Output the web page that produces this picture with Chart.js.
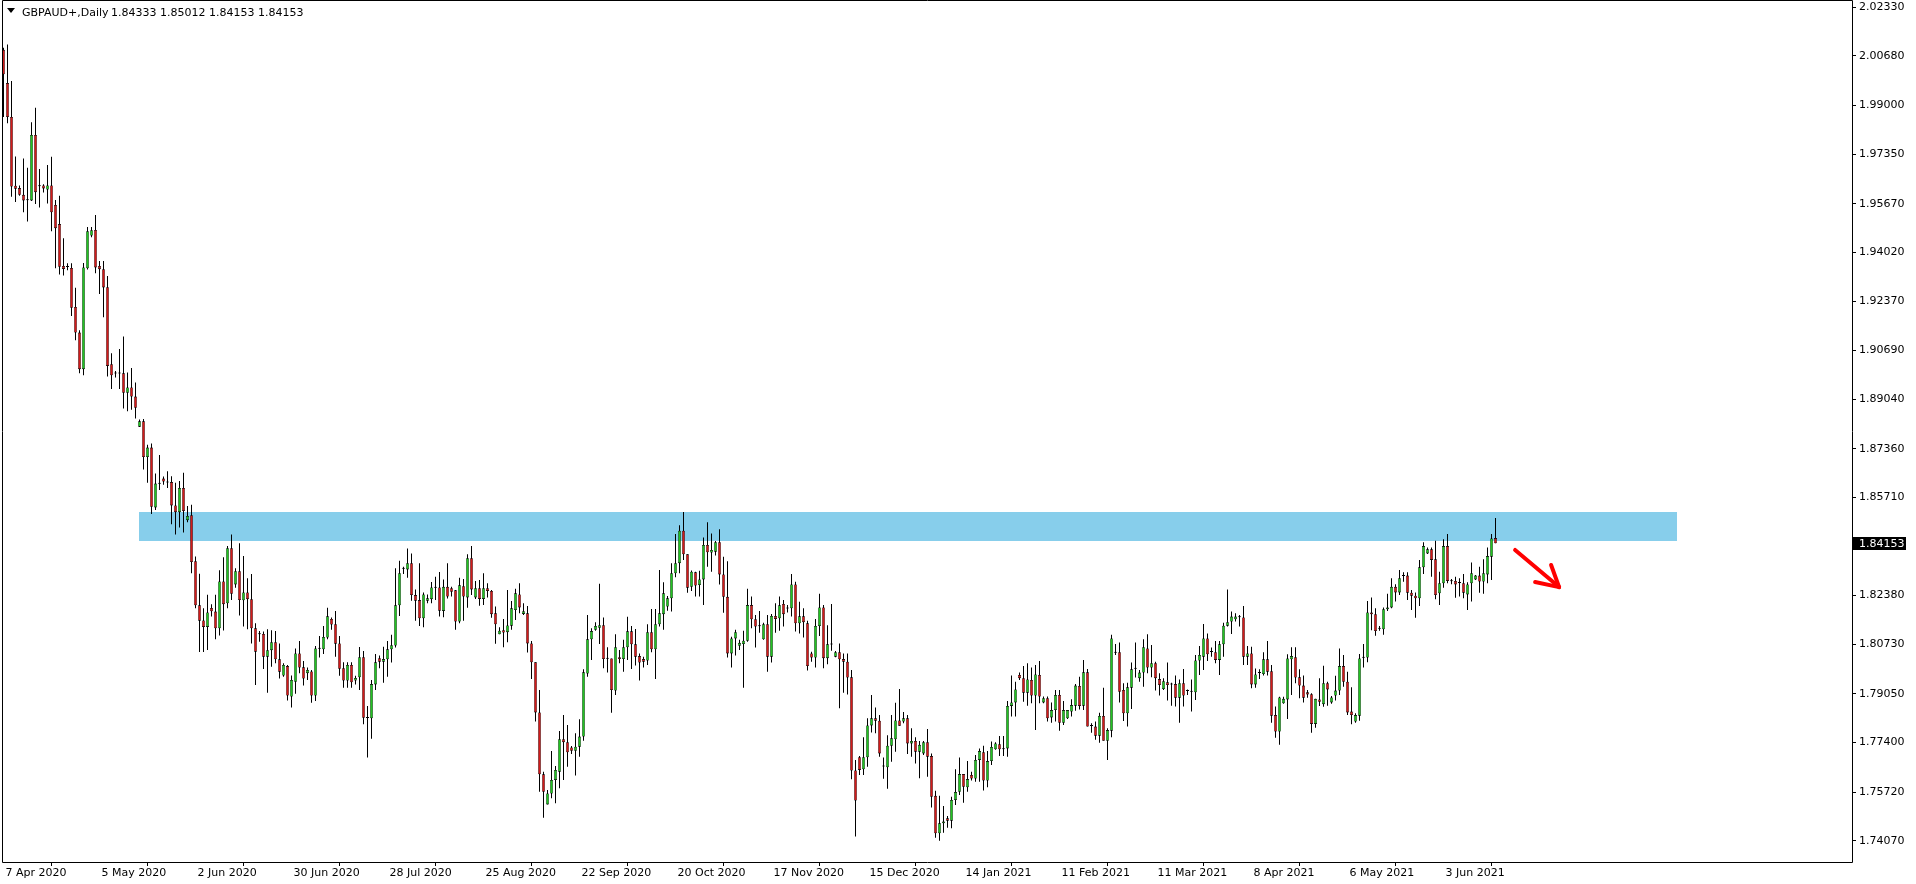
<!DOCTYPE html>
<html>
<head>
<meta charset="utf-8">
<title>GBPAUD+,Daily</title>
<script src="https://cdn.jsdelivr.net/npm/chart.js@4.4.1/dist/chart.umd.min.js"></script>
<style>
  html, body { margin: 0; padding: 0; background: #fff; overflow: hidden; }
</style>
</head>
<body>
<canvas id="myChart" width="1916" height="884"></canvas>
<script>
'use strict';
// data (one value per daily bar)
const opens = [
  2.0089, 1.9976, 1.9861, 1.9628, 1.9620, 1.9597, 1.9580, 1.9578, 1.9800, 1.9628,
  1.9629, 1.9615, 1.9629, 1.9563, 1.9498, 1.9356, 1.9354, 1.9349, 1.9217, 1.9130,
  1.9006, 1.9348, 1.9459, 1.9478, 1.9356, 1.9345, 1.9284, 1.9023, 1.8992, 1.8992,
  1.8992, 1.8926, 1.8944, 1.8913, 1.8811, 1.8829, 1.8708, 1.8740, 1.8537, 1.8618,
  1.8635, 1.8623, 1.8623, 1.8544, 1.8521, 1.8603, 1.8494, 1.8511, 1.8355, 1.8205,
  1.8154, 1.8132, 1.8196, 1.8184, 1.8127, 1.8286, 1.8212, 1.8399, 1.8276, 1.8321,
  1.8222, 1.8249, 1.8226, 1.8127, 1.8110, 1.8108, 1.8031, 1.8053, 1.8080, 1.8022,
  1.7967, 1.7999, 1.7896, 1.7946, 1.8042, 1.7995, 1.7975, 1.7981, 1.7899, 1.8059,
  1.8056, 1.8096, 1.8159, 1.8141, 1.8076, 1.7992, 1.7950, 1.8003, 1.7950, 1.7961,
  1.8029, 1.7824, 1.7822, 1.7937, 1.8026, 1.8014, 1.8022, 1.8056, 1.8069, 1.8205,
  1.8331, 1.8327, 1.8348, 1.8240, 1.8223, 1.8161, 1.8221, 1.8226, 1.8266, 1.8266,
  1.8186, 1.8268, 1.8263, 1.8256, 1.8150, 1.8270, 1.8232, 1.8365, 1.8232, 1.8263,
  1.8227, 1.8263, 1.8254, 1.8178, 1.8107, 1.8121, 1.8114, 1.8136, 1.8189, 1.8242,
  1.8176, 1.8178, 1.8076, 1.8012, 1.7842, 1.7632, 1.7530, 1.7567, 1.7613, 1.7641,
  1.7751, 1.7741, 1.7723, 1.7712, 1.7726, 1.7760, 1.7974, 1.8090, 1.8122, 1.8129,
  1.8138, 1.8025, 1.8025, 1.7916, 1.8029, 1.8023, 1.8063, 1.8117, 1.8073, 1.8033,
  1.8023, 1.8018, 1.8114, 1.8056, 1.8141, 1.8175, 1.8201, 1.8229, 1.8314, 1.8348,
  1.8458, 1.8378, 1.8268, 1.8317, 1.8274, 1.8293, 1.8410, 1.8384, 1.8387, 1.8419,
  1.8310, 1.8234, 1.8042, 1.8093, 1.8068, 1.8074, 1.8085, 1.8206, 1.8158, 1.8135,
  1.8090, 1.8141, 1.8031, 1.8169, 1.8161, 1.8210, 1.8195, 1.8195, 1.8276, 1.8144,
  1.8168, 1.8144, 1.8042, 1.8028, 1.8135, 1.8198, 1.8026, 1.8073, 1.8031, 1.8046,
  1.8023, 1.8014, 1.7961, 1.7645, 1.7690, 1.7649, 1.7690, 1.7798, 1.7822, 1.7814,
  1.7660, 1.7656, 1.7729, 1.7751, 1.7815, 1.7811, 1.7822, 1.7737, 1.7745, 1.7709,
  1.7703, 1.7741, 1.7694, 1.7559, 1.7432, 1.7466, 1.7483, 1.7475, 1.7545, 1.7573,
  1.7633, 1.7588, 1.7630, 1.7618, 1.7681, 1.7707, 1.7611, 1.7677, 1.7717, 1.7734,
  1.7717, 1.7720, 1.7864, 1.7876, 1.7969, 1.7958, 1.7909, 1.7952, 1.7899, 1.7969,
  1.7876, 1.7890, 1.7825, 1.7850, 1.7901, 1.7807, 1.7822, 1.7845, 1.7865, 1.7932,
  1.7865, 1.7978, 1.7797, 1.7794, 1.7763, 1.7830, 1.7746, 1.7780, 1.8045, 1.8046,
  1.7918, 1.7839, 1.7926, 1.7991, 1.7958, 1.7977, 1.8059, 1.7994, 1.8009, 1.7955,
  1.7921, 1.7944, 1.7938, 1.7938, 1.7892, 1.7941, 1.7916, 1.7913, 1.7910, 1.8018,
  1.8031, 1.8093, 1.8048, 1.8046, 1.8020, 1.8073, 1.8136, 1.8150, 1.8158, 1.8166,
  1.8164, 1.8031, 1.8042, 1.7937, 1.7977, 1.7972, 1.8022, 1.7982, 1.7833, 1.7777,
  1.7873, 1.7886, 1.8022, 1.8029, 1.7961, 1.7933, 1.7910, 1.7904, 1.7803, 1.7886,
  1.7870, 1.7941, 1.7876, 1.7899, 1.7916, 1.7999, 1.7946, 1.7845, 1.7811, 1.7831,
  1.8028, 1.8028, 1.8181, 1.8175, 1.8127, 1.8124, 1.8192, 1.8198, 1.8268, 1.8249,
  1.8306, 1.8306, 1.8248, 1.8238, 1.8229, 1.8334, 1.8381, 1.8395, 1.8361, 1.8246,
  1.8280, 1.8406, 1.8288, 1.8288, 1.8282, 1.8280, 1.8242, 1.8280, 1.8293, 1.8306,
  1.8286, 1.8310, 1.8370, 1.84333
];
const highs = [
  2.0096, 2.0107, 1.9983, 1.9727, 1.9629, 1.9720, 1.9689, 1.9843, 1.9892, 1.9685,
  1.9633, 1.9698, 1.9726, 1.9580, 1.9594, 1.9450, 1.9365, 1.9365, 1.9282, 1.9138,
  1.9366, 1.9488, 1.9488, 1.9529, 1.9373, 1.9373, 1.9322, 1.9060, 1.9000, 1.9074,
  1.9117, 1.8995, 1.9010, 1.8961, 1.8835, 1.8837, 1.8750, 1.8754, 1.8652, 1.8715,
  1.8642, 1.8660, 1.8643, 1.8621, 1.8627, 1.8655, 1.8542, 1.8546, 1.8371, 1.8312,
  1.8195, 1.8241, 1.8209, 1.8241, 1.8324, 1.8368, 1.8406, 1.8445, 1.8331, 1.8416,
  1.8372, 1.8297, 1.8311, 1.8144, 1.8118, 1.8116, 1.8124, 1.8121, 1.8118, 1.8076,
  1.8009, 1.8003, 1.7967, 1.8059, 1.8084, 1.8016, 1.7994, 1.7986, 1.8067, 1.8101,
  1.8135, 1.8197, 1.8164, 1.8186, 1.8101, 1.8012, 1.8012, 1.8012, 1.7966, 1.8064,
  1.8050, 1.7864, 1.7952, 1.8040, 1.8035, 1.8065, 1.8084, 1.8105, 1.8331, 1.8356,
  1.8336, 1.8398, 1.8381, 1.8259, 1.8348, 1.8249, 1.8242, 1.8284, 1.8302, 1.8318,
  1.8293, 1.8348, 1.8268, 1.8257, 1.8299, 1.8294, 1.8378, 1.8406, 1.8288, 1.8291,
  1.8314, 1.8280, 1.8257, 1.8201, 1.8131, 1.8159, 1.8257, 1.8220, 1.8261, 1.8280,
  1.8212, 1.8203, 1.8084, 1.8012, 1.7918, 1.7641, 1.7579, 1.7711, 1.7660, 1.7779,
  1.7833, 1.7799, 1.7728, 1.7771, 1.7819, 1.7988, 1.8172, 1.8127, 1.8148, 1.8278,
  1.8164, 1.8063, 1.8025, 1.8107, 1.8054, 1.8088, 1.8166, 1.8135, 1.8125, 1.8042,
  1.8031, 1.8141, 1.8193, 1.8193, 1.8325, 1.8283, 1.8237, 1.8348, 1.8447, 1.8477,
  1.8522, 1.8378, 1.8323, 1.8319, 1.8322, 1.8435, 1.8487, 1.8449, 1.8423, 1.8463,
  1.8370, 1.8355, 1.8099, 1.8122, 1.8088, 1.8119, 1.8261, 1.8235, 1.8172, 1.8186,
  1.8146, 1.8172, 1.8176, 1.8212, 1.8235, 1.8223, 1.8206, 1.8311, 1.8285, 1.8217,
  1.8195, 1.8153, 1.8048, 1.8159, 1.8244, 1.8206, 1.8138, 1.8210, 1.8050, 1.8076,
  1.8042, 1.8042, 1.7986, 1.7681, 1.7694, 1.7758, 1.7822, 1.7901, 1.7859, 1.7833,
  1.7689, 1.7765, 1.7833, 1.7875, 1.7921, 1.7843, 1.7833, 1.7788, 1.7758, 1.7745,
  1.7745, 1.7786, 1.7703, 1.7576, 1.7559, 1.7525, 1.7491, 1.7556, 1.7649, 1.7689,
  1.7633, 1.7677, 1.7641, 1.7698, 1.7720, 1.7729, 1.7711, 1.7743, 1.7741, 1.7762,
  1.7762, 1.7881, 1.7967, 1.7946, 1.7977, 1.7999, 1.8009, 1.7994, 1.8003, 1.8016,
  1.7896, 1.7896, 1.7876, 1.7918, 1.7918, 1.7881, 1.7850, 1.7887, 1.7938, 1.7963,
  1.8020, 1.7989, 1.7805, 1.7811, 1.7841, 1.7926, 1.7788, 1.8105, 1.8074, 1.8079,
  1.7941, 1.7943, 1.8011, 1.8079, 1.7986, 1.8090, 1.8107, 1.8071, 1.8014, 1.7975,
  1.7958, 1.8011, 1.7943, 1.7967, 1.7954, 1.7989, 1.7920, 1.7954, 1.8037, 1.8067,
  1.8142, 1.8110, 1.8062, 1.8084, 1.8084, 1.8146, 1.8259, 1.8184, 1.8178, 1.8172,
  1.8203, 1.8067, 1.8065, 1.7991, 1.7988, 1.8046, 1.8084, 1.8003, 1.7862, 1.7895,
  1.7895, 1.8039, 1.8063, 1.8063, 1.7988, 1.7967, 1.7918, 1.7907, 1.7888, 1.7958,
  1.8000, 1.7946, 1.7898, 1.7966, 1.8059, 1.8037, 1.7980, 1.7927, 1.7839, 1.8040,
  1.8074, 1.8220, 1.8232, 1.8195, 1.8135, 1.8198, 1.8244, 1.8297, 1.8277, 1.8325,
  1.8317, 1.8317, 1.8257, 1.8249, 1.8359, 1.8419, 1.8401, 1.8401, 1.8424, 1.8319,
  1.8429, 1.8447, 1.8294, 1.8302, 1.8297, 1.8311, 1.8283, 1.8350, 1.8308, 1.8336,
  1.8361, 1.8401, 1.8447, 1.85012
];
const lows = [
  1.9861, 1.9840, 1.9591, 1.9573, 1.9594, 1.9538, 1.9507, 1.9576, 1.9566, 1.9554,
  1.9605, 1.9568, 1.9474, 1.9348, 1.9327, 1.9324, 1.9341, 1.9186, 1.9104, 1.8992,
  1.8985, 1.9344, 1.9453, 1.9331, 1.9261, 1.9182, 1.8981, 1.8939, 1.8978, 1.8939,
  1.8873, 1.8863, 1.8868, 1.8839, 1.8810, 1.8666, 1.8621, 1.8515, 1.8528, 1.8596,
  1.8614, 1.8603, 1.8480, 1.8445, 1.8469, 1.8452, 1.8487, 1.8314, 1.8195, 1.8047,
  1.8047, 1.8054, 1.8167, 1.8090, 1.8103, 1.8120, 1.8195, 1.8223, 1.8265, 1.8171,
  1.8133, 1.8124, 1.8076, 1.7935, 1.8082, 1.7989, 1.7909, 1.7997, 1.8009, 1.7957,
  1.7963, 1.7882, 1.7859, 1.7905, 1.7975, 1.7933, 1.7952, 1.7875, 1.7881, 1.8028,
  1.8040, 1.8090, 1.8122, 1.8031, 1.7966, 1.7926, 1.7926, 1.7926, 1.7937, 1.7918,
  1.7802, 1.7689, 1.7753, 1.7918, 1.7992, 1.7943, 1.7963, 1.8011, 1.8062, 1.8169,
  1.8311, 1.8299, 1.8221, 1.8153, 1.8135, 1.8131, 1.8212, 1.8212, 1.8223, 1.8167,
  1.8165, 1.8228, 1.8235, 1.8122, 1.8144, 1.8153, 1.8197, 1.8240, 1.8227, 1.8204,
  1.8206, 1.8232, 1.8163, 1.8075, 1.8107, 1.8063, 1.8080, 1.8122, 1.8155, 1.8178,
  1.8172, 1.8045, 1.7955, 1.7811, 1.7573, 1.7485, 1.7530, 1.7551, 1.7534, 1.7585,
  1.7613, 1.7658, 1.7701, 1.7628, 1.7692, 1.7746, 1.7963, 1.8020, 1.8119, 1.8074,
  1.7992, 1.7977, 1.7841, 1.7901, 1.8009, 1.7980, 1.8020, 1.7989, 1.8001, 1.7950,
  1.7994, 1.8003, 1.8046, 1.7955, 1.8133, 1.8122, 1.8187, 1.8184, 1.8300, 1.8314,
  1.8359, 1.8248, 1.8254, 1.8235, 1.8235, 1.8206, 1.8336, 1.8319, 1.8374, 1.8276,
  1.8180, 1.8028, 1.7994, 1.8035, 1.8054, 1.7926, 1.8082, 1.8127, 1.8062, 1.8112,
  1.8088, 1.7980, 1.8011, 1.8112, 1.8119, 1.8133, 1.8181, 1.8167, 1.8116, 1.8110,
  1.8096, 1.7984, 1.8014, 1.7994, 1.8101, 1.7992, 1.8005, 1.8051, 1.8029, 1.7856,
  1.7909, 1.7903, 1.7615, 1.7421, 1.7630, 1.7630, 1.7658, 1.7774, 1.7771, 1.7692,
  1.7617, 1.7583, 1.7675, 1.7709, 1.7797, 1.7805, 1.7701, 1.7692, 1.7669, 1.7619,
  1.7698, 1.7624, 1.7520, 1.7417, 1.7407, 1.7434, 1.7451, 1.7449, 1.7528, 1.7562,
  1.7536, 1.7573, 1.7611, 1.7607, 1.7607, 1.7577, 1.7588, 1.7664, 1.7715, 1.7694,
  1.7694, 1.7692, 1.7828, 1.7828, 1.7952, 1.7878, 1.7865, 1.7873, 1.7782, 1.7873,
  1.7873, 1.7811, 1.7807, 1.7811, 1.7780, 1.7799, 1.7820, 1.7828, 1.7848, 1.7852,
  1.7850, 1.7794, 1.7773, 1.7749, 1.7739, 1.7746, 1.7681, 1.7758, 1.8037, 1.7876,
  1.7813, 1.7794, 1.7854, 1.7960, 1.7946, 1.7929, 1.7975, 1.7961, 1.7916, 1.7899,
  1.7918, 1.7882, 1.7865, 1.7862, 1.7807, 1.7862, 1.7901, 1.7845, 1.7884, 1.7969,
  1.7986, 1.8016, 1.8031, 1.8009, 1.7969, 1.8031, 1.8133, 1.8108, 1.8150, 1.8133,
  1.8003, 1.8003, 1.7924, 1.7926, 1.7955, 1.7967, 1.7967, 1.7807, 1.7756, 1.7732,
  1.7871, 1.7820, 1.7901, 1.7941, 1.7890, 1.7876, 1.7892, 1.7773, 1.7790, 1.7864,
  1.7861, 1.7865, 1.7871, 1.7882, 1.7901, 1.7929, 1.7833, 1.7802, 1.7807, 1.7814,
  1.7994, 1.8012, 1.8121, 1.8102, 1.8119, 1.8105, 1.8186, 1.8195, 1.8218, 1.8240,
  1.8285, 1.8223, 1.8189, 1.8163, 1.8203, 1.8311, 1.8379, 1.8302, 1.8226, 1.8206,
  1.8265, 1.8280, 1.8277, 1.8231, 1.8235, 1.8229, 1.8189, 1.8218, 1.8291, 1.8248,
  1.8244, 1.8280, 1.8291, 1.84153
];
const closes = [
  2.0006, 1.9861, 1.9625, 1.9618, 1.9597, 1.9578, 1.9579, 1.9800, 1.9606, 1.9626,
  1.9619, 1.9629, 1.9538, 1.9484, 1.9353, 1.9346, 1.9352, 1.9214, 1.9130, 1.9006,
  1.9351, 1.9474, 1.9477, 1.9351, 1.9345, 1.9283, 1.9017, 1.8985, 1.8991, 1.8991,
  1.8926, 1.8944, 1.8913, 1.8875, 1.8829, 1.8708, 1.8740, 1.8539, 1.8618, 1.8617,
  1.8625, 1.8622, 1.8544, 1.8521, 1.8603, 1.8525, 1.8508, 1.8352, 1.8205, 1.8153,
  1.8132, 1.8181, 1.8185, 1.8127, 1.8286, 1.8209, 1.8399, 1.8244, 1.8321, 1.8223,
  1.8249, 1.8226, 1.8127, 1.8048, 1.8107, 1.8031, 1.8053, 1.8080, 1.8022, 1.7980,
  1.8003, 1.7899, 1.7952, 1.8042, 1.7994, 1.7957, 1.7986, 1.7899, 1.8059, 1.8058,
  1.8098, 1.8168, 1.8140, 1.8075, 1.7990, 1.7950, 1.8003, 1.7944, 1.7959, 1.8029,
  1.7824, 1.7823, 1.7938, 1.8012, 1.8014, 1.8023, 1.8056, 1.8070, 1.8205, 1.8314,
  1.8329, 1.8348, 1.8240, 1.8221, 1.8161, 1.8242, 1.8229, 1.8266, 1.8265, 1.8187,
  1.8268, 1.8235, 1.8251, 1.8150, 1.8273, 1.8235, 1.8365, 1.8259, 1.8263, 1.8227,
  1.8263, 1.8254, 1.8175, 1.8141, 1.8119, 1.8113, 1.8137, 1.8195, 1.8246, 1.8198,
  1.8185, 1.8076, 1.8012, 1.7842, 1.7632, 1.7573, 1.7567, 1.7613, 1.7647, 1.7751,
  1.7741, 1.7707, 1.7712, 1.7726, 1.7760, 1.7978, 1.8090, 1.8118, 1.8135, 1.8138,
  1.8023, 1.8024, 1.7918, 1.8063, 1.8023, 1.8063, 1.8117, 1.8073, 1.8031, 1.8011,
  1.8014, 1.8114, 1.8056, 1.8141, 1.8178, 1.8246, 1.8229, 1.8314, 1.8348, 1.8458,
  1.8378, 1.8265, 1.8319, 1.8272, 1.8293, 1.8410, 1.8385, 1.8393, 1.8419, 1.8310,
  1.8234, 1.8042, 1.8093, 1.8114, 1.8078, 1.8085, 1.8206, 1.8158, 1.8133, 1.8134,
  1.8141, 1.8031, 1.8169, 1.8159, 1.8205, 1.8175, 1.8194, 1.8276, 1.8144, 1.8168,
  1.8148, 1.7999, 1.8028, 1.8135, 1.8198, 1.8026, 1.8073, 1.8072, 1.8046, 1.8022,
  1.8014, 1.7960, 1.7645, 1.7543, 1.7647, 1.7690, 1.7798, 1.7822, 1.7814, 1.7703,
  1.7659, 1.7729, 1.7754, 1.7815, 1.7797, 1.7822, 1.7737, 1.7745, 1.7709, 1.7732,
  1.7741, 1.7692, 1.7556, 1.7432, 1.7466, 1.7472, 1.7475, 1.7545, 1.7572, 1.7633,
  1.7590, 1.7616, 1.7618, 1.7681, 1.7711, 1.7611, 1.7677, 1.7725, 1.7737, 1.7717,
  1.7720, 1.7864, 1.7876, 1.7920, 1.7958, 1.7909, 1.7954, 1.7899, 1.7971, 1.7896,
  1.7890, 1.7822, 1.7850, 1.7901, 1.7807, 1.7850, 1.7850, 1.7867, 1.7933, 1.7864,
  1.7978, 1.7794, 1.7796, 1.7763, 1.7830, 1.7746, 1.7782, 1.8093, 1.8044, 1.7912,
  1.7839, 1.7927, 1.7988, 1.7990, 1.7977, 1.8063, 1.7994, 1.8009, 1.7958, 1.7935,
  1.7948, 1.7935, 1.7937, 1.7892, 1.7941, 1.7899, 1.7915, 1.7912, 1.8018, 1.8037,
  1.8093, 1.8039, 1.8047, 1.8020, 1.8073, 1.8136, 1.8148, 1.8167, 1.8167, 1.8165,
  1.8031, 1.8042, 1.7937, 1.7971, 1.7976, 1.8022, 1.7980, 1.7831, 1.7777, 1.7893,
  1.7888, 1.8025, 1.8033, 1.7960, 1.7933, 1.7892, 1.7903, 1.7803, 1.7888, 1.7878,
  1.7941, 1.7920, 1.7893, 1.7916, 1.7999, 1.7946, 1.7842, 1.7833, 1.7833, 1.8025,
  1.8027, 1.8181, 1.8175, 1.8118, 1.8126, 1.8192, 1.8198, 1.8268, 1.8249, 1.8297,
  1.8305, 1.8248, 1.8238, 1.8229, 1.8334, 1.8406, 1.8395, 1.8359, 1.8240, 1.8280,
  1.8406, 1.8288, 1.8287, 1.8276, 1.8281, 1.8248, 1.8276, 1.8314, 1.8306, 1.8286,
  1.8314, 1.8372, 1.8432, 1.84153
];

// time axis: bar index of each date label
const dateBars = [0, 24, 48, 72, 96, 120, 144, 168, 192, 216, 240, 264, 288, 312, 336, 360];
const dateLabels = ['7 Apr 2020', '5 May 2020', '2 Jun 2020', '30 Jun 2020', '28 Jul 2020', '25 Aug 2020',
  '22 Sep 2020', '20 Oct 2020', '17 Nov 2020', '15 Dec 2020', '14 Jan 2021', '11 Feb 2021',
  '11 Mar 2021', '8 Apr 2021', '6 May 2021', '3 Jun 2021'];
// price axis labels
const priceTicks = [2.0233, 2.0068, 1.9900, 1.9735, 1.9567, 1.9402, 1.9237, 1.9069, 1.8904,
  1.8736, 1.8571, 1.8238, 1.8073, 1.7905, 1.7740, 1.7572, 1.7407];

// resistance zone (bars / prices)
const zoneBars = [33.9, 418.4];
const zonePrices = [1.84233, 1.85216];
// hand drawn arrow (bar, price)
const arrowShaft = [[377.9, 1.8393], [388.9, 1.8267]];
const arrowArm1 = [[382.9, 1.8284], [388.9, 1.8267]];
const arrowArm2 = [[386.9, 1.8342], [388.9, 1.8267]];

const symbolText = 'GBPAUD+,Daily';
const bullColor = '#22c322';
const bearColor = '#d21a1a';
const axisFont = '11px "DejaVu Sans"';

const last = closes.length - 1;

const bodyData = opens.map((o, i) => ({x: i, y: [o, closes[i]]}));
const wickData = highs.map((h, i) => ({x: i, y: [lows[i], h]}));
const bodyColors = opens.map((o, i) => closes[i] >= o ? bullColor : bearColor);

// zone behind the candles
const zonePlugin = {
    id: 'zone',
    beforeDatasetsDraw(chart) {
        const {ctx, scales: {x, y}} = chart;
        const x0 = x.getPixelForValue(zoneBars[0]);
        const x1 = x.getPixelForValue(zoneBars[1]);
        const y0 = y.getPixelForValue(zonePrices[1]);
        const y1 = y.getPixelForValue(zonePrices[0]);
        ctx.save();
        ctx.fillStyle = '#87ceeb';
        ctx.fillRect(Math.round(x0), Math.round(y0), Math.round(x1 - x0), Math.round(y1 - y0));
        ctx.restore();
    }
};

// frame, header, arrow, price marker
const decorPlugin = {
    id: 'decor',
    afterDraw(chart) {
        const {ctx, chartArea, scales: {x, y}} = chart;
        ctx.save();
        // frame
        ctx.strokeStyle = '#000';
        ctx.lineWidth = 1;
        ctx.beginPath();
        ctx.moveTo(chartArea.left + 0.5, chartArea.bottom + 0.5);
        ctx.lineTo(chartArea.left + 0.5, chartArea.top - 0.5);
        ctx.lineTo(chartArea.right + 0.5, chartArea.top - 0.5);
        ctx.lineTo(chartArea.right + 0.5, chartArea.bottom + 0.5);
        ctx.lineTo(chartArea.left + 0.5, chartArea.bottom + 0.5);
        ctx.stroke();

        // arrow
        ctx.strokeStyle = '#ff0000';
        ctx.lineWidth = 4;
        ctx.lineCap = 'round';
        [arrowShaft, arrowArm1, arrowArm2].forEach(seg => {
            ctx.beginPath();
            ctx.moveTo(x.getPixelForValue(seg[0][0]), y.getPixelForValue(seg[0][1]));
            ctx.lineTo(x.getPixelForValue(seg[1][0]), y.getPixelForValue(seg[1][1]));
            ctx.stroke();
        });

        // header
        ctx.fillStyle = '#000';
        ctx.beginPath();
        ctx.moveTo(7, 8);
        ctx.lineTo(15, 8);
        ctx.lineTo(11, 13);
        ctx.closePath();
        ctx.fill();
        ctx.font = axisFont;
        ctx.textBaseline = 'alphabetic';
        ctx.textAlign = 'left';
        ctx.fillText(symbolText, 22, 16);
        const ohlc = [opens[last], highs[last], lows[last], closes[last]].map(v => v.toFixed(5)).join(' ');
        ctx.fillText(ohlc, 111, 16);

        // current price marker
        const py = Math.round(y.getPixelForValue(closes[last]));
        ctx.fillStyle = '#000';
        ctx.fillRect(chartArea.right + 1, py - 6, 53, 13);
        ctx.fillStyle = '#fff';
        ctx.textBaseline = 'middle';
        ctx.fillText(closes[last].toFixed(5), chartArea.right + 7, py + 1);
        ctx.restore();
    }
};

const ctx = document.getElementById('myChart');
const myChart = new Chart(ctx.getContext('2d'), {
    type: 'bar',
    data: {
        datasets: [{
            label: 'body',
            data: bodyData,
            backgroundColor: bodyColors,
            borderColor: '#000',
            borderWidth: 0.6,
            borderSkipped: false,
            inflateAmount: 0,
            barThickness: 3,
            minBarLength: 1,
            grouped: false,
            order: 1
        }, {
            label: 'wick',
            data: wickData,
            backgroundColor: '#000',
            borderWidth: 0,
            inflateAmount: 0,
            barThickness: 1,
            minBarLength: 1,
            grouped: false,
            order: 2
        }]
    },
    options: {
        responsive: false,
        animation: false,
        events: [],
        layout: {
            padding: {left: 2, top: 1, right: 0, bottom: 0}
        },
        plugins: {
            legend: {display: false},
            tooltip: {enabled: false}
        },
        scales: {
            x: {
                type: 'linear',
                offset: false,
                min: -0.375,
                max: 462.125,
                border: {display: false},
                grid: {drawOnChartArea: false, drawTicks: true, tickLength: 4, color: '#000'},
                ticks: {
                    autoSkip: false,
                    maxRotation: 0,
                    align: 'start',
                    labelOffset: 2,
                    padding: 1,
                    color: '#000',
                    font: {family: 'DejaVu Sans', size: 11},
                    callback: (value, index) => dateLabels[index]
                },
                afterBuildTicks: axis => {
                    axis.ticks = dateBars.map(v => ({value: v}));
                },
                afterFit: axis => {
                    axis.height = 22;
                    axis.paddingLeft = 0;
                    axis.paddingRight = 0;
                }
            },
            y: {
                position: 'right',
                min: 1.733477,
                max: 2.025441,
                border: {display: false},
                grid: {drawOnChartArea: false, drawTicks: true, tickLength: 4, color: '#000'},
                ticks: {
                    padding: 3,
                    color: '#000',
                    font: {family: 'DejaVu Sans', size: 11},
                    callback: value => value.toFixed(5)
                },
                afterBuildTicks: axis => {
                    axis.ticks = priceTicks.map(v => ({value: v}));
                },
                afterFit: axis => {
                    axis.width = 64;
                    axis.paddingTop = 0;
                    axis.paddingBottom = 0;
                }
            }
        }
    },
    plugins: [zonePlugin, decorPlugin]
});
</script>
</body>
</html>
